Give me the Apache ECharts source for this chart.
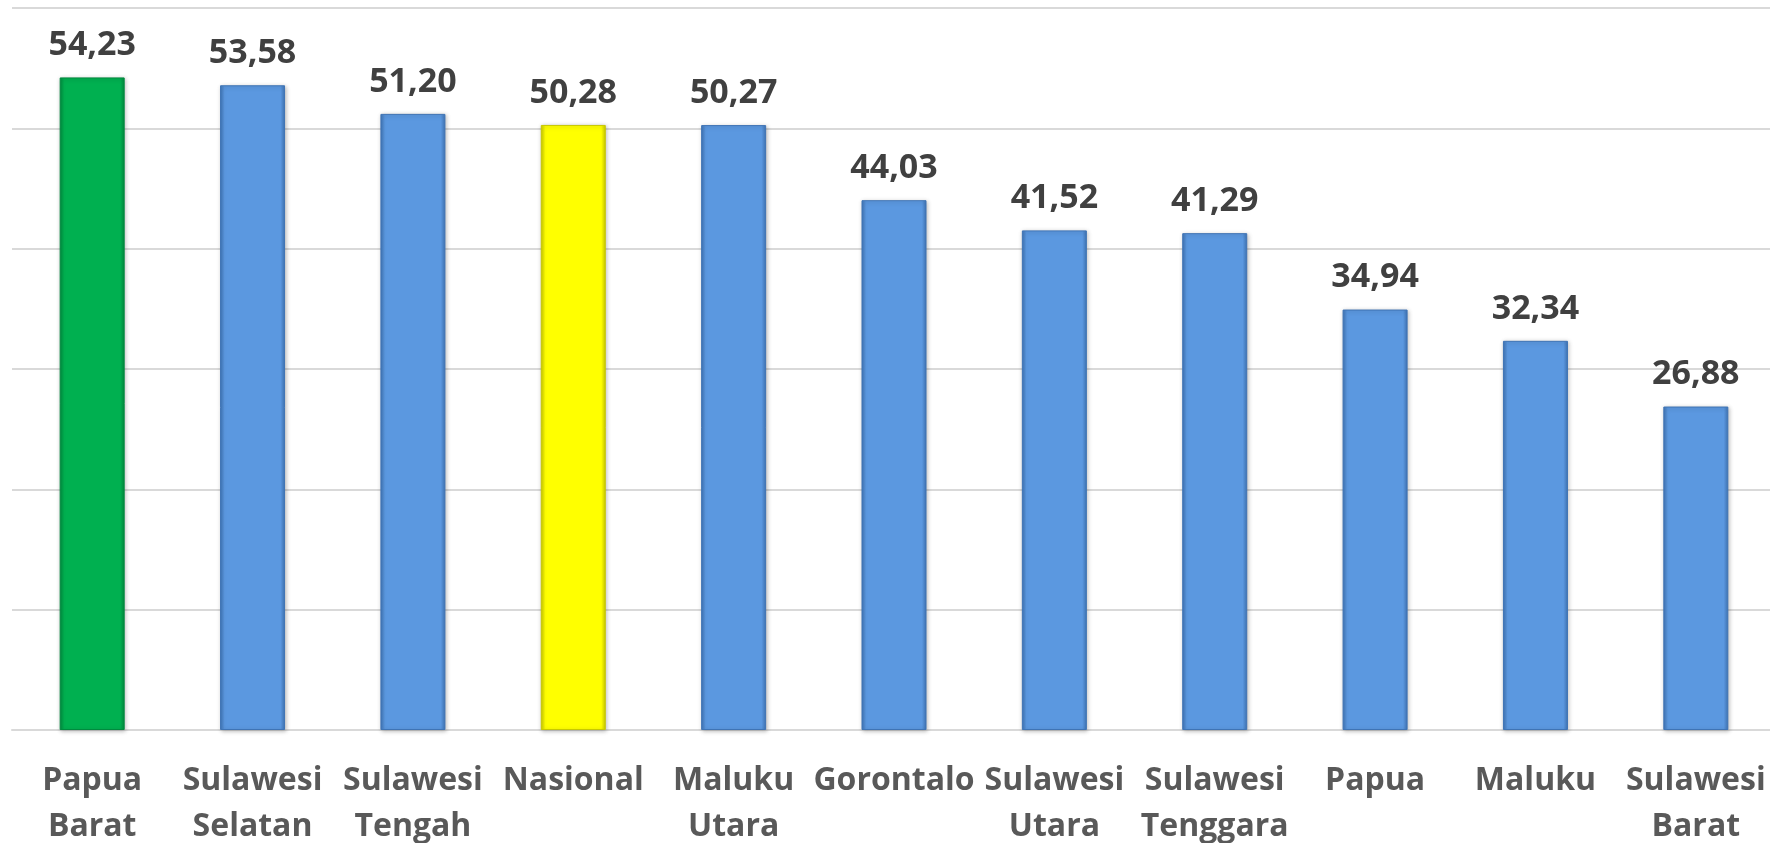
<!DOCTYPE html>
<html>
<head>
<meta charset="utf-8">
<script src="https://cdn.jsdelivr.net/npm/echarts@6/dist/echarts.min.js"></script>
<style>
  html, body { margin: 0; padding: 0; background: #fff; }
  #chart { width: 1770px; height: 843px; }
</style>
</head>
<body>
<div id="chart"></div>
<script>
// provinsi + nasional
const categories = ['Papua\nBarat', 'Sulawesi\nSelatan', 'Sulawesi\nTengah', 'Nasional', 'Maluku\nUtara',
  'Gorontalo', 'Sulawesi\nUtara', 'Sulawesi\nTenggara', 'Papua', 'Maluku', 'Sulawesi\nBarat'];
const values = [54.23, 53.58, 51.20, 50.28, 50.27, 44.03, 41.52, 41.29, 34.94, 32.34, 26.88];
const yTicks = [0, 10, 20, 30, 40, 50, 60];

// warna khusus
const colorOf = {
  'Papua\nBarat': ['#2bd070', '#00b050', '#008a3e'],
  'Nasional': ['#ffff66', '#ffff00', '#c8c800']
};
const blue = ['#7fb3ee', '#5b98e0', '#3f74b5'];

function barStyle(name) {
  const c = colorOf[name] || blue;
  return {
    color: {
      type: 'linear', x: 0, y: 0, x2: 1, y2: 0,
      colorStops: [
        { offset: 0, color: c[2] },
        { offset: 0.07, color: c[1] },
        { offset: 0.93, color: c[1] },
        { offset: 1, color: c[2] }
      ]
    },
    borderColor: c[2],
    borderWidth: 1,
    shadowColor: 'rgba(0,0,0,0.25)',
    shadowBlur: 4,
    shadowOffsetX: 1,
    shadowOffsetY: 1
  };
}

const chart = echarts.init(document.getElementById('chart'));
chart.setOption({
  animation: false,
  backgroundColor: '#fff',
  grid: { left: 12, right: -6, top: 8, bottom: 113, containLabel: false, outerBoundsMode: 'none' },
  xAxis: {
    type: 'category',
    data: categories,
    axisLine: { lineStyle: { color: '#d9d9d9', width: 2 } },
    axisTick: { show: false },
    axisLabel: {
      interval: 0,
      margin: 28,
      color: '#595959',
      fontFamily: 'Open Sans',
      fontWeight: 'bold',
      fontSize: 32,
      lineHeight: 46
    }
  },
  yAxis: {
    type: 'value',
    min: yTicks[0],
    max: yTicks[yTicks.length - 1],
    interval: 10,
    axisLabel: { show: false },
    axisLine: { show: false },
    axisTick: { show: false },
    splitLine: { lineStyle: { color: '#d9d9d9', width: 2 } }
  },
  series: [{
    type: 'bar',
    barWidth: 65,
    data: values.map((v, i) => ({ value: v, itemStyle: barStyle(categories[i]) })),
    label: {
      show: true,
      position: 'top',
      distance: 15,
      color: '#404040',
      fontFamily: 'Open Sans',
      fontWeight: 'bold',
      fontSize: 34,
      formatter: p => p.value.toFixed(2).replace('.', ',')
    }
  }]
});
</script>
</body>
</html>
